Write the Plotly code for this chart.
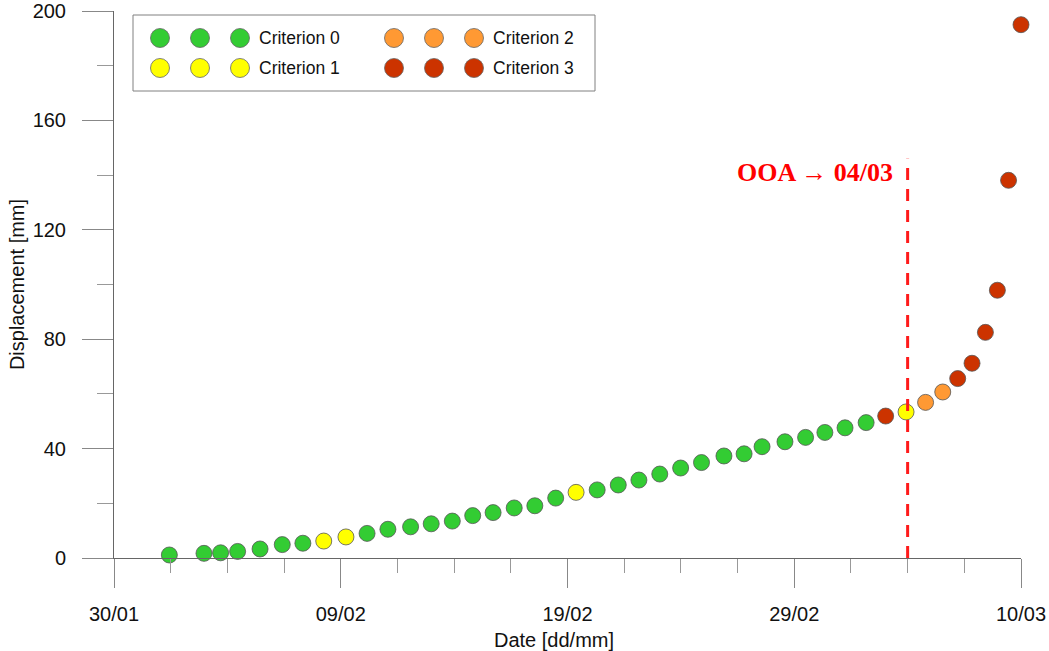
import plotly.graph_objects as go

# ---------------- data ----------------
dates = [
    "2020-02-01 10:35", "2020-02-02 23:15", "2020-02-03 16:50", "2020-02-04 10:50",
    "2020-02-05 10:35", "2020-02-06 10:05", "2020-02-07 07:55", "2020-02-08 06:00",
    "2020-02-09 05:30", "2020-02-10 03:50", "2020-02-11 01:55", "2020-02-12 01:55",
    "2020-02-12 23:45", "2020-02-13 22:05", "2020-02-14 19:40", "2020-02-15 17:15",
    "2020-02-16 15:35", "2020-02-17 13:25", "2020-02-18 11:30", "2020-02-19 09:05",
    "2020-02-20 07:25", "2020-02-21 05:45", "2020-02-22 03:35", "2020-02-23 01:40",
    "2020-02-23 23:45", "2020-02-24 21:50", "2020-02-25 21:35", "2020-02-26 18:55",
    "2020-02-27 13:55", "2020-02-28 14:10", "2020-02-29 12:00", "2020-03-01 08:25",
    "2020-03-02 05:45", "2020-03-03 04:05", "2020-03-04 00:45", "2020-03-04 22:20",
    "2020-03-05 19:00", "2020-03-06 13:10", "2020-03-07 05:00", "2020-03-07 20:10",
    "2020-03-08 10:20", "2020-03-08 23:00", "2020-03-09 10:50", "2020-03-10 00:00",
]
displacement = [
    1.1, 1.7, 1.9, 2.4, 3.3, 4.9, 5.4, 6.2, 7.7, 9.0,
    10.5, 11.4, 12.5, 13.5, 15.5, 16.6, 18.3, 19.1, 21.9, 24.0,
    24.9, 26.7, 28.5, 30.7, 32.9, 34.9, 37.3, 38.1, 40.7, 42.5,
    44.1, 45.9, 47.6, 49.5, 51.9, 53.4, 56.9, 60.7, 65.6, 71.2,
    82.5, 97.9, 138.1, 195.0,
]
criterion = [
    0, 0, 0, 0, 0, 0, 0, 1, 1, 0,
    0, 0, 0, 0, 0, 0, 0, 0, 0, 1,
    0, 0, 0, 0, 0, 0, 0, 0, 0, 0,
    0, 0, 0, 0, 3, 1, 2, 2, 3, 3,
    3, 3, 3, 3,
]
criterion_names = ["Criterion 0", "Criterion 1", "Criterion 2", "Criterion 3"]
criterion_colors = ["#33CC33", "#FFFF00", "#FF9933", "#CC3300"]

x_range = ["2020-01-30", "2020-03-10"]
y_range = [0, 200]
ooa_date = "2020-03-05 00:00"
ooa_label = "OOA \u2192 04/03"
ooa_line_top = 146

# ---------------- layout helpers (pixel -> paper) ----------------
W, H = 1049, 651
ML, MR, MT, MB = 114, 28, 11, 93
PW, PH = W - ML - MR, H - MT - MB


def px(xp):
    return (xp - ML) / PW


def py(yp):
    return (H - MB - yp) / PH


FONT = "Liberation Sans, Arial, sans-serif"
DAY_MS = 86400000

fig = go.Figure()
fig.add_trace(go.Scatter(
    x=dates, y=displacement, mode="markers",
    marker=dict(size=16, color=[criterion_colors[c] for c in criterion],
                line=dict(color="#555555", width=0.8)),
    cliponaxis=False, showlegend=False,
    hovertext=[criterion_names[c] for c in criterion],
))

shapes = []
annotations = []

# OOA dashed line
shapes.append(dict(type="line", xref="x", yref="y", x0=ooa_date, x1=ooa_date,
                   y0=0, y1=ooa_line_top,
                   line=dict(color="#FF1A1A", width=3, dash="12px,9px"), layer="above"))
annotations.append(dict(x=ooa_date, y=141, xref="x", yref="y", text=ooa_label,
                        showarrow=False, xanchor="right", yanchor="middle", xshift=-13,
                        font=dict(family="Liberation Serif, Times New Roman, serif",
                                  size=26, color="#FF0000", weight="bold")))

# custom legend (three markers per entry)
shapes.append(dict(type="rect", xref="paper", yref="paper",
                   x0=px(133), x1=px(595), y0=py(91), y1=py(15),
                   line=dict(color="#808080", width=1), fillcolor="white", layer="above"))
leg_cols = [(160, 200, 240, 257), (394, 434, 474, 491)]
leg_rows = [38, 68]
for i, (name, col) in enumerate(zip(criterion_names, criterion_colors)):
    c = leg_cols[i // 2]
    r = leg_rows[i % 2]
    for mx in c[:3]:
        shapes.append(dict(type="circle", xref="paper", yref="paper",
                           xsizemode="pixel", ysizemode="pixel",
                           xanchor=px(mx), yanchor=py(r),
                           x0=-9.5, x1=9.5, y0=-9.5, y1=9.5,
                           fillcolor=col, line=dict(color="#666666", width=0.8),
                           layer="above"))
    annotations.append(dict(x=px(c[3]), y=py(r), xref="paper", yref="paper",
                            text=name, showarrow=False, xanchor="left", yanchor="middle",
                            font=dict(family=FONT, size=17.5, color="#111111")))

# x axis title
annotations.append(dict(x=px(554), y=py(640), xref="paper", yref="paper",
                        text="Date [dd/mm]", showarrow=False,
                        xanchor="center", yanchor="middle",
                        font=dict(family=FONT, size=20, color="#111111")))

fig.update_layout(
    width=W, height=H,
    margin=dict(l=ML, r=MR, t=MT, b=MB, autoexpand=False),
    paper_bgcolor="white", plot_bgcolor="white",
    font=dict(family=FONT, size=20, color="#111111"),
    shapes=shapes, annotations=annotations,
    showlegend=False,
)
fig.update_xaxes(
    type="date", range=x_range, tickformat="%d/%m",
    tick0="2020-01-30", dtick=10 * DAY_MS,
    ticks="outside", ticklen=29, tickwidth=1, tickcolor="#888888",
    showline=True, linecolor="#666666", linewidth=1, automargin=False,
    showgrid=False, zeroline=False, ticklabelstandoff=9,
    minor=dict(ticks="outside", ticklen=14, tickwidth=1, tickcolor="#999999",
               tick0="2020-01-30", dtick=2.5 * DAY_MS, showgrid=False),
)
fig.update_yaxes(
    range=y_range, tick0=0, dtick=40,
    ticks="outside", ticklen=31, tickwidth=1, tickcolor="#888888",
    showline=True, linecolor="#666666", linewidth=1, automargin=False,
    showgrid=False, zeroline=False, ticklabelstandoff=12,
    minor=dict(ticks="outside", ticklen=16, tickwidth=1, tickcolor="#999999",
               dtick=20, showgrid=False),
    title=dict(text="Displacement [mm]", standoff=2,
               font=dict(family=FONT, size=20, color="#111111")),
)

fig.write_html(
    "out.html",
    config={"displayModeBar": False},
    post_script="document.body.style.margin='0';document.body.style.overflow='hidden';",
)
